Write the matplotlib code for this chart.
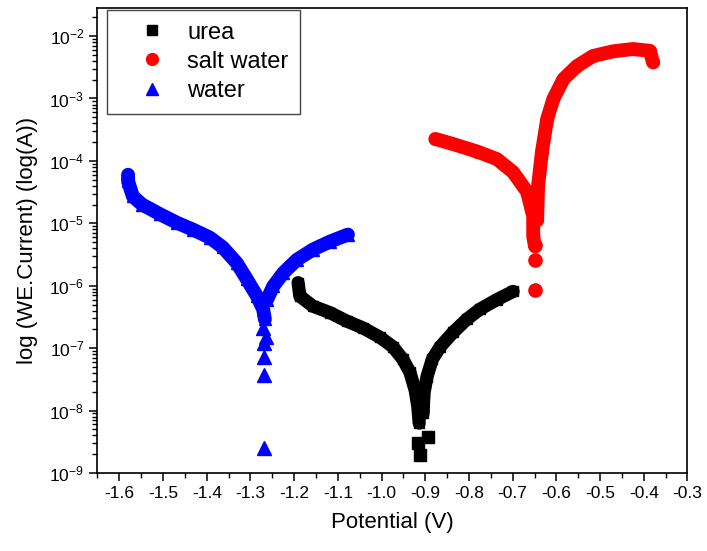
import matplotlib
matplotlib.use("Agg")

import numpy as np
from matplotlib import pyplot as plt
from matplotlib.ticker import MultipleLocator, LogLocator

plt.rcParams['font.family'] = ['Liberation Sans', 'DejaVu Sans']

# urea (black squares): cathodic branch, scattered points at the minimum, anodic branch
urea_cath_x = [-1.191, -1.187, -1.157, -1.118, -1.079, -1.042, -1.004, -0.974, -0.951, -0.935, -0.923, -0.917, -0.914]
urea_cath_y = [1.12e-6, 6.8e-7, 4.7e-7, 3.7e-7, 2.7e-7, 2.1e-7, 1.5e-7, 1.05e-7, 6.6e-8, 4.1e-8, 2.1e-8, 1.15e-8, 6.3e-9]
urea_tip_x = [-0.917, -0.894, -0.912]
urea_tip_y = [3.0e-9, 3.8e-9, 1.95e-9]
urea_anod_x = [-0.905, -0.903, -0.896, -0.884, -0.866, -0.836, -0.805, -0.775, -0.736, -0.699]
urea_anod_y = [9e-9, 1.9e-8, 3.5e-8, 6.6e-8, 1.05e-7, 1.8e-7, 2.9e-7, 4.2e-7, 6.0e-7, 8.1e-7]

# salt water (red circles)
salt_cath_x = [-0.877, -0.836, -0.781, -0.736, -0.699, -0.667, -0.653, -0.653, -0.649]
salt_cath_y = [2.25e-4, 1.86e-4, 1.41e-4, 1.07e-4, 6.6e-5, 3.2e-5, 1.3e-5, 6.2e-6, 4.3e-6]
salt_tip_x = [-0.650, -0.649, -0.649]
salt_tip_y = [4.5e-6, 2.6e-6, 8.7e-7]
salt_anod_x = [-0.644, -0.642, -0.633, -0.621, -0.607, -0.584, -0.553, -0.516, -0.470, -0.425, -0.386, -0.379]
salt_anod_y = [1.15e-5, 3.9e-5, 1.4e-4, 4.7e-4, 9.8e-4, 2.04e-3, 3.3e-3, 4.8e-3, 5.7e-3, 6.2e-3, 5.8e-3, 3.8e-3]

# water (blue triangles)
water_cath_x = [-1.580, -1.580, -1.569, -1.548, -1.507, -1.468, -1.431, -1.393, -1.363, -1.331, -1.308, -1.285, -1.271, -1.267]
water_cath_y = [6.0e-5, 4.7e-5, 2.7e-5, 2.0e-5, 1.4e-5, 1.02e-5, 7.9e-6, 5.9e-6, 4.1e-6, 2.3e-6, 1.26e-6, 6.8e-7, 4.2e-7, 2.9e-7]
water_tip_x = [-1.272, -1.265, -1.270, -1.268, -1.268, -1.268]
water_tip_y = [2.1e-7, 1.5e-7, 1.2e-7, 7.3e-8, 3.7e-8, 2.5e-9]
water_anod_x = [-1.262, -1.248, -1.225, -1.194, -1.157, -1.118, -1.077]
water_anod_y = [6.0e-7, 9.8e-7, 1.6e-6, 2.6e-6, 3.8e-6, 5.1e-6, 6.6e-6]

fig = plt.figure(figsize=(7.07, 5.51), dpi=100)
ax = fig.add_axes([0.1379, 0.1416, 0.8345, 0.8439])

series = [
    ('urea', 'black', 's', 8, 9.5,
     urea_cath_x, urea_cath_y, urea_tip_x, urea_tip_y, urea_anod_x, urea_anod_y),
    ('salt water', 'red', 'o', 9.5, 10,
     salt_cath_x, salt_cath_y, salt_tip_x, salt_tip_y, salt_anod_x, salt_anod_y),
    ('water', 'blue', '^', 10, 10,
     water_cath_x, water_cath_y, water_tip_x, water_tip_y, water_anod_x, water_anod_y),
]

handles = []
for (name, col, mk, ms, lw, cx, cy, tx, ty, axx, ay) in series:
    # dense scan -> thick stroke of overlapping markers
    ax.plot(cx, cy, color=col, lw=lw, solid_capstyle='round', solid_joinstyle='round')
    ax.plot(axx, ay, color=col, lw=lw, solid_capstyle='round', solid_joinstyle='round')
    ax.plot(cx + axx, cy + ay, ls='none', marker=mk, ms=ms - 1, color=col, mec=col)
    ax.plot(tx, ty, ls='none', marker=mk, ms=ms, color=col, mec=col)
    h, = ax.plot([], [], ls='none', marker=mk, ms=ms - 1, color=col, mec=col, label=name)
    handles.append(h)

ax.set_yscale('log')
ax.set_xlim(-1.65, -0.3)
ax.set_ylim(1e-9, 10 ** -1.55)

ax.xaxis.set_major_locator(MultipleLocator(0.1))
ax.xaxis.set_minor_locator(MultipleLocator(0.05))
ax.xaxis.set_major_formatter(plt.FuncFormatter(lambda v, p: '%.1f' % v))
ax.yaxis.set_major_locator(LogLocator(base=10, numticks=20))
ax.yaxis.set_minor_locator(LogLocator(base=10, subs=np.arange(2, 10), numticks=20))

ax.tick_params(which='major', direction='out', length=6, width=1.1, labelsize=12.5,
               top=False, right=False)
ax.tick_params(which='minor', direction='out', length=3.5, width=1.0, top=False, right=False)
for s in ax.spines.values():
    s.set_linewidth(1.2)

ax.set_xlabel('Potential (V)', fontsize=16, labelpad=8)
ax.set_ylabel('log (WE.Current) (log(A))', fontsize=16, labelpad=8)

leg = ax.legend(handles=handles, loc='upper left', bbox_to_anchor=(0.016, 0.996),
                borderaxespad=0, fontsize=17, frameon=True, fancybox=False,
                handlelength=2.8, handletextpad=0.1, labelspacing=0.3,
                borderpad=0.5, markerscale=1.0)
leg.get_frame().set_edgecolor('#444444')
leg.get_frame().set_linewidth(1.0)
leg.get_frame().set_alpha(1)

fig.savefig('out.png', dpi=100)
